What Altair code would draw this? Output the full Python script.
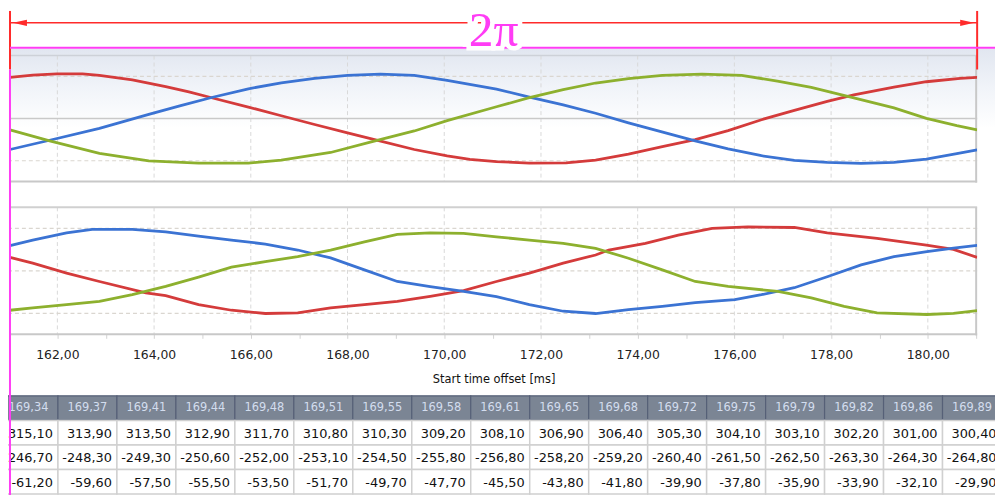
import altair as alt
import pandas as pd

# ---------------- data ----------------
period_start = 161.02          # ms, left end of the 2π span
period_end = 181.02            # ms, right end of the 2π span
span_label = "2π"

# upper panel (phase L1 = red, L2 = blue, L3 = green)
top_red_t = [161.02, 161.49, 161.99, 162.52, 162.87, 163.55, 164.24, 164.72, 165.19, 165.95, 166.63,
             167.32, 168.00, 168.56, 169.38, 170.06, 170.53, 171.08, 171.76, 172.52, 173.13, 173.81,
             174.51, 175.19, 175.87, 176.56, 177.24, 177.92, 178.47, 179.30, 179.97, 180.67, 181.02]
top_red_v = [293, 309, 318, 318, 308, 276, 228, 190, 148, 82, 20,
             -42, -102, -150, -220, -266, -290, -306, -316, -315, -296, -252,
             -200, -150, -86, -8, 58, 122, 168, 224, 262, 286, 293]

top_blue_t = [161.02, 161.84, 162.87, 163.89, 164.55, 165.19, 165.95, 166.63, 167.32, 168.00, 168.68,
              169.38, 170.06, 171.08, 171.74, 172.46, 173.13, 173.81, 174.50, 175.19, 175.87, 176.56,
              177.24, 177.92, 178.62, 179.30, 179.97, 180.60, 181.02]
top_blue_v = [-220, -154, -70, 30, 92, 150, 212, 254, 286, 308, 316,
              307, 272, 210, 155, 98, 38, -30, -95, -158, -216, -264,
              -298, -312, -318, -312, -288, -250, -222]

top_green_t = [161.02, 161.84, 162.87, 163.89, 164.92, 165.95, 166.63, 167.65, 168.47, 169.38, 170.06,
               171.08, 171.74, 172.46, 173.13, 173.81, 174.51, 175.33, 176.15, 176.89, 177.59, 178.47,
               179.30, 179.97, 180.60, 181.02]
top_green_v = [-80, -159, -248, -300, -316, -316, -296, -241, -168, -88, -15,
               84, 147, 206, 253, 284, 307, 316, 307, 266, 222, 147,
               76, 2, -50, -80]

# lower panel
bot_red_t = [161.02, 161.49, 162.19, 162.87, 163.83, 164.24, 164.92, 165.60, 166.30, 166.97, 167.65,
             168.35, 169.03, 169.71, 170.40, 171.08, 171.76, 172.46, 173.13, 173.40, 174.16, 174.84,
             175.54, 176.28, 177.24, 177.92, 178.95, 179.97, 180.53, 181.02]
bot_red_v = [95, 54, -16, -75, -156, -175, -238, -278, -301, -296, -261,
             -238, -215, -180, -140, -75, -16, 54, 112, 147, 194, 252,
             299, 310, 306, 268, 229, 182, 152, 95]

bot_blue_t = [161.02, 161.49, 162.19, 162.72, 163.55, 164.24, 164.92, 165.60, 166.30, 166.97, 167.65,
              168.35, 169.03, 169.71, 170.40, 171.08, 171.76, 172.46, 173.13, 173.81, 174.51, 175.19,
              176.01, 176.56, 177.24, 177.92, 178.62, 179.30, 179.98, 180.53, 181.02]
bot_blue_v = [178, 217, 268, 292, 292, 275, 245, 217, 189, 147, 91,
              7, -75, -112, -145, -182, -238, -285, -301, -273, -250, -224,
              -203, -168, -119, -42, 42, 100, 135, 161, 180]

bot_green_t = [161.02, 161.49, 162.19, 162.87, 163.55, 164.24, 164.92, 165.60, 166.30, 166.97, 167.65,
               168.35, 169.03, 169.71, 170.40, 171.08, 171.76, 172.46, 173.13, 173.81, 174.51, 175.19,
               175.87, 176.90, 177.59, 178.27, 178.95, 179.98, 180.53, 181.02]
bot_green_v = [-278, -262, -238, -215, -168, -110, -44, 26, 65, 100, 147,
               205, 257, 268, 264, 240, 217, 194, 159, 89, 7, -75,
               -110, -145, -191, -250, -296, -308, -300, -280]

x_tick_values = [162, 163, 164, 165, 166, 167, 168, 169, 170, 171, 172, 173, 174, 175, 176,
                 177, 178, 179, 180, 181]
x_grid_values = [162, 164, 166, 168, 170, 172, 174, 176, 178, 180]
y_grid_values = [-300, 0, 300]

# table under the chart
table_header = ["169,34", "169,37", "169,41", "169,44", "169,48", "169,51", "169,55", "169,58",
                "169,61", "169,65", "169,68", "169,72", "169,75", "169,79", "169,82", "169,86", "169,89"]
table_row1 = [315.10, 313.90, 313.50, 312.90, 311.70, 310.80, 310.30, 309.20, 308.10, 306.90,
              306.40, 305.30, 304.10, 303.10, 302.20, 301.00, 300.40]
table_row2 = [-246.70, -248.30, -249.30, -250.60, -252.00, -253.10, -254.50, -255.80, -256.80,
              -258.20, -259.20, -260.40, -261.50, -262.50, -263.30, -264.30, -264.80]
table_row3 = [-61.20, -59.60, -57.50, -55.50, -53.50, -51.70, -49.70, -47.70, -45.50, -43.80,
              -41.80, -39.90, -37.80, -35.90, -33.90, -32.10, -29.90]

# ---------------- frames ----------------
def series(t, v, name):
    return pd.DataFrame({"t": t, "v": v, "phase": name})

top_df = pd.concat([series(top_red_t, top_red_v, "L1"),
                    series(top_blue_t, top_blue_v, "L2"),
                    series(top_green_t, top_green_v, "L3")], ignore_index=True)
bot_df = pd.concat([series(bot_red_t, bot_red_v, "L1"),
                    series(bot_blue_t, bot_blue_v, "L2"),
                    series(bot_green_t, bot_green_v, "L3")], ignore_index=True)
vgrid_df = pd.DataFrame({"t": x_grid_values})
hgrid_df = pd.DataFrame({"v": y_grid_values})

cells = []
rows = [table_row1, table_row2, table_row3]
for k, h in enumerate(table_header):
    cells.append({"c0": k, "c1": k + 1, "cm": k + 0.5, "r0": 0, "r1": 1, "rm": 0.5,
                  "kind": "head", "label": h, "v": 0.0})
    for r, row in enumerate(rows, start=1):
        cells.append({"c0": k, "c1": k + 1, "cm": k + 0.5, "r0": r, "r1": r + 1, "rm": r + 0.5,
                      "kind": "body", "label": "", "v": row[k]})
cells_df = pd.DataFrame(cells)
annot_df = pd.DataFrame({"start": [period_start], "end": [period_end], "label": [span_label]})
one = pd.DataFrame({"a": [0]})

# ---------------- styling ----------------
RED, BLUE, GREEN = "#d43b3b", "#3b73d3", "#8db02e"
ANN_RED, MAGENTA = "#ff2b2b", "#ff3cf5"
W, H = 975, 489
YDOM = [-448, 448]
xs = alt.Scale(domain=[period_start, period_end], nice=False, zero=False)
ys_top = alt.Scale(domain=YDOM, range=[173, 46], nice=False, zero=False)
ys_bot = alt.Scale(domain=YDOM, range=[327, 199], nice=False, zero=False)
color = alt.Color("phase:N", scale=alt.Scale(domain=["L1", "L2", "L3"], range=[RED, BLUE, GREEN]),
                  legend=None)

bottom_axis = alt.Axis(
    values=x_tick_values,
    labelExpr="datum.value % 2 == 0 ? replace(format(datum.value, '.2f'), '.', ',') : ''",
    title="Start time offset [ms]", offset=-162, domain=False, grid=False,
    ticks=True, tickSize=4, tickColor="#d2d2d2",
    labelFont="DejaVu Sans", labelFontSize=12.5, labelColor="#222222", labelPadding=10,
    labelOverlap=False, labelFlush=False,
    titleFont="DejaVu Sans", titleFontSize=11.5, titleFontWeight="normal", titleColor="#111111",
    titlePadding=13,
)

# ---------------- upper panel ----------------
top_bg = alt.Chart(one).mark_rect(
    fill=alt.Gradient(gradient="linear",
                      stops=[alt.GradientStop(color="#e1e6f0", offset=0),
                             alt.GradientStop(color="#f1f4f9", offset=0.3),
                             alt.GradientStop(color="#ffffff", offset=0.6)],
                      x1=0, x2=0, y1=0, y2=1)
).encode(x=alt.value(0), x2=alt.value(993), y=alt.value(39), y2=alt.value(173))

top_vgrid = alt.Chart(vgrid_df).mark_rule(color="#d9d9d9", strokeDash=[4, 3], strokeWidth=1).encode(
    x=alt.X("t:Q", scale=xs, axis=None), y=alt.value(46), y2=alt.value(173))
top_hgrid_d = alt.Chart(hgrid_df).transform_filter("datum.v != 0").mark_rule(
    color="#dad6d0", strokeDash=[4, 3], strokeWidth=1.2).encode(y=alt.Y("v:Q", scale=ys_top, axis=None))
top_hgrid_s = alt.Chart(hgrid_df).transform_filter("datum.v == 0").mark_rule(
    color="#c9c9c9", strokeWidth=1.5).encode(y=alt.Y("v:Q", scale=ys_top, axis=None))
top_lines = alt.Chart(top_df).mark_line(strokeWidth=2.8, clip=True).encode(
    x=alt.X("t:Q", scale=xs, axis=None), y=alt.Y("v:Q", scale=ys_top, axis=None), color=color)
top_edge_t = alt.Chart(one).mark_rule(color="#cdd1d8", strokeWidth=1.5).encode(
    x=alt.value(0), x2=alt.value(975), y=alt.value(46))
top_edge_b = alt.Chart(one).mark_rule(color="#c8c8c8", strokeWidth=2).encode(
    x=alt.value(0), x2=alt.value(975), y=alt.value(173))
top_edge_r = alt.Chart(one).mark_rule(color="#c8c8c8", strokeWidth=2).encode(
    x=alt.value(974), y=alt.value(46), y2=alt.value(174))
top = alt.layer(top_bg, top_vgrid, top_hgrid_d, top_hgrid_s, top_edge_t, top_edge_b, top_edge_r, top_lines)

# ---------------- lower panel ----------------
bot_vgrid = alt.Chart(vgrid_df).mark_rule(color="#d9d9d9", strokeDash=[4, 3], strokeWidth=1).encode(
    x=alt.X("t:Q", scale=xs, axis=bottom_axis), y=alt.value(199), y2=alt.value(327))
bot_hgrid = alt.Chart(hgrid_df).mark_rule(color="#dad6d0", strokeDash=[4, 3], strokeWidth=1.2).encode(
    y=alt.Y("v:Q", scale=ys_bot, axis=None))
bot_lines = alt.Chart(bot_df).mark_line(strokeWidth=2.8, clip=True).encode(
    x=alt.X("t:Q", scale=xs, axis=bottom_axis), y=alt.Y("v:Q", scale=ys_bot, axis=None), color=color)
bot_edge_t = alt.Chart(one).mark_rule(color="#d0d0d0", strokeWidth=2).encode(
    x=alt.value(0), x2=alt.value(975), y=alt.value(199))
bot_edge_b = alt.Chart(one).mark_rule(color="#c8c8c8", strokeWidth=2).encode(
    x=alt.value(0), x2=alt.value(975), y=alt.value(327))
bot_edge_r = alt.Chart(one).mark_rule(color="#c8c8c8", strokeWidth=2).encode(
    x=alt.value(974), y=alt.value(199), y2=alt.value(328))
bottom = alt.layer(bot_vgrid, bot_hgrid, bot_edge_t, bot_edge_b, bot_edge_r, bot_lines)

# ---------------- table ----------------
txs = alt.Scale(domain=[0, 17], range=[-11.1, 999.55], nice=False, zero=False)
tys = alt.Scale(domain=[0, 4], range=[389, 488], nice=False, zero=False)
tbase = alt.Chart(cells_df)
head_rect = tbase.transform_filter("datum.kind == 'head'").mark_rect(
    fill="#7b8594", stroke="#566077", strokeWidth=1.2).encode(
    x=alt.X("c0:Q", scale=txs, axis=None), x2="c1:Q",
    y=alt.Y("r0:Q", scale=tys, axis=None), y2="r1:Q")
body_rect = tbase.transform_filter("datum.kind == 'body'").mark_rect(
    fill="#ffffff", stroke="#d0d0d0", strokeWidth=1.5).encode(
    x=alt.X("c0:Q", scale=txs, axis=None), x2="c1:Q",
    y=alt.Y("r0:Q", scale=tys, axis=None), y2="r1:Q")
head_text = tbase.transform_filter("datum.kind == 'head'").mark_text(
    font="DejaVu Sans", fontSize=11.5, color="#d3ddee", align="center", baseline="middle").encode(
    x=alt.X("cm:Q", scale=txs, axis=None), y=alt.Y("rm:Q", scale=tys, axis=None), text="label:N")
body_text = tbase.transform_filter("datum.kind == 'body'").transform_calculate(
    txt="(datum.v < 0 ? '-' : '') + replace(format(abs(datum.v), '.2f'), '.', ',')"
).mark_text(font="DejaVu Sans", fontSize=13, color="#111111", align="right", baseline="middle",
            dx=-5, dy=1).encode(
    x=alt.X("c1:Q", scale=txs, axis=None), y=alt.Y("rm:Q", scale=tys, axis=None), text="txt:N")
table = alt.layer(head_rect, body_rect, head_text, body_text)

# ---------------- 2π annotation ----------------
abase = alt.Chart(annot_df).transform_calculate(mid="(datum.start + datum.end) / 2")
ax = alt.X("start:Q", scale=xs, axis=None)
dim_line = abase.mark_rule(color=ANN_RED, strokeWidth=1.5).encode(x=ax, x2="end:Q", y=alt.value(13))
red_left = abase.mark_rule(color=ANN_RED, strokeWidth=2).encode(x=ax, y=alt.value(1), y2=alt.value(60))
red_right = abase.mark_rule(color=ANN_RED, strokeWidth=2).encode(
    x=alt.X("end:Q", scale=xs, axis=None), y=alt.value(1), y2=alt.value(60))
mag_vert = abase.mark_rule(color=MAGENTA, strokeWidth=2).encode(x=ax, y=alt.value(60), y2=alt.value(489))
mag_horz = abase.mark_rule(color=MAGENTA, strokeWidth=2).encode(x=ax, x2=alt.value(993), y=alt.value(38))
arrow_l = alt.Chart(one).mark_point(shape="M-1,0L1,-0.45L1,0.45Z", size=200, filled=True,
                                    color=ANN_RED, opacity=1).encode(x=alt.value(10), y=alt.value(13))
arrow_r = alt.Chart(one).mark_point(shape="M1,0L-1,-0.45L-1,0.45Z", size=200, filled=True,
                                    color=ANN_RED, opacity=1).encode(x=alt.value(965), y=alt.value(13))
label_halo = abase.mark_text(font="Liberation Serif", fontSize=50, color="white", stroke="white",
                             strokeWidth=9, align="center", baseline="alphabetic").encode(
    x=alt.X("mid:Q", scale=xs, axis=None), y=alt.value(36), text="label:N")
label_text = abase.mark_text(font="Liberation Serif", fontSize=50, color=MAGENTA, align="center",
                             baseline="alphabetic").encode(
    x=alt.X("mid:Q", scale=xs, axis=None), y=alt.value(36), text="label:N")
annot = alt.layer(dim_line, red_left, red_right, mag_horz, arrow_l, arrow_r, label_halo, label_text, mag_vert)

chart = alt.layer(top, bottom, table, annot).resolve_scale(
    x="independent", y="independent"
).properties(
    width=W, height=H,
    autosize=alt.AutoSizeParams(type="none"),
    padding={"left": 2, "top": 0, "right": 18, "bottom": 0},
    background="white",
).configure_view(strokeWidth=0)

chart.save("out.html", embed_options={"renderer": "svg", "actions": False})
